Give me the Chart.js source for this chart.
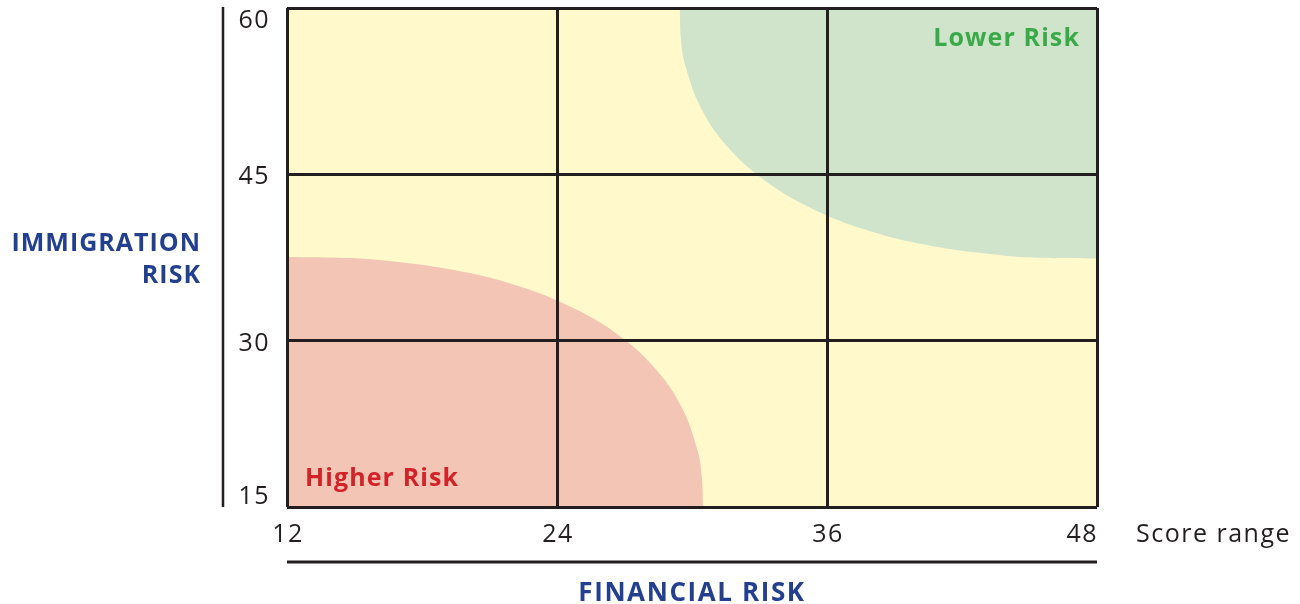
<!DOCTYPE html>
<html>
<head>
<meta charset="utf-8">
<title>Risk matrix</title>
<script src="https://cdn.jsdelivr.net/npm/chart.js@4.4.1/dist/chart.umd.min.js"></script>
<style>
  html, body { margin: 0; padding: 0; background: #fff; }
  #wrap { width: 1300px; height: 604px; }
</style>
</head>
<body>
<div id="wrap"><canvas id="riskChart" width="1300" height="604"></canvas></div>
<script>
// === Data ===
const xTicks = [12, 24, 36, 48];
const yTicks = [15, 30, 45, 60];

// boundary of the green "Lower Risk" zone (filled up to the top)
const lowerRiskX = [29.45, 29.51, 29.69, 30.41, 31.58, 33.22, 35.26, 37.72, 40.56, 43.82, 45.67, 48];
const lowerRiskY = [60, 57.17, 54.91, 50.94, 47.48, 44.47, 41.99, 40.00, 38.58, 37.69, 37.47, 37.40];

// boundary of the red "Higher Risk" zone (filled down to the bottom)
const higherRiskX = [12, 14.32, 16.17, 19.41, 22.24, 24.70, 26.74, 28.36, 29.53, 30.25, 30.43, 30.49];
const higherRiskY = [37.54, 37.47, 37.25, 36.37, 34.95, 32.96, 30.49, 27.49, 24.04, 20.08, 17.83, 15];

const xTitle = 'FINANCIAL RISK';
const yTitle = ['IMMIGRATION', 'RISK'];
const scoreLabel = 'Score range';
const lowerLabel = 'Lower Risk';
const higherLabel = 'Higher Risk';

// === Colours ===
const INK = '#231f20';
const NAVY = '#233f8f';
const YELLOW = '#fff9cb';
const GREEN_FILL = '#cfe4ca';
const RED_FILL = '#f2c5b4';
const GREEN_TEXT = '#3aaa49';
const RED_TEXT = '#d2232a';
const FONT = '"Open Sans", "DejaVu Sans", sans-serif';

const toPoints = (xs, ys) => xs.map((x, i) => ({ x, y: ys[i] }));

// yellow background of the plot
const plotBackground = {
  id: 'plotBackground',
  beforeDraw(chart) {
    const { ctx, chartArea: a } = chart;
    ctx.save();
    ctx.fillStyle = YELLOW;
    ctx.fillRect(a.left, a.top, a.right - a.left, a.bottom - a.top);
    ctx.restore();
  }
};

// tick labels, titles and zone labels
const labelsPlugin = {
  id: 'labelsPlugin',
  afterDraw(chart) {
    const { ctx, chartArea: a, scales } = chart;
    ctx.save();

    // y tick labels, kept inside the plot height
    ctx.font = `400 25px ${FONT}`;
    ctx.letterSpacing = '1.5px';
    ctx.fillStyle = INK;
    ctx.textAlign = 'right';
    ctx.textBaseline = 'middle';
    yTicks.forEach(v => {
      let y = scales.y.getPixelForValue(v) + 3;
      y = Math.min(Math.max(y, a.top + 13), a.bottom - 10);
      ctx.fillText(String(v), a.left - 17, y);
    });

    // x tick labels, kept inside the plot width
    ctx.textAlign = 'center';
    xTicks.forEach(v => {
      const w = ctx.measureText(String(v)).width;
      let x = scales.x.getPixelForValue(v) + 1;
      x = Math.min(x, a.right + 1 - w / 2);
      ctx.fillText(String(v), x, a.bottom + 28);
    });

    ctx.textAlign = 'left';
    ctx.fillText(scoreLabel, a.right + 39, a.bottom + 28);

    // left vertical rule
    ctx.strokeStyle = INK;
    ctx.lineWidth = 2.5;
    ctx.beginPath();
    ctx.moveTo(a.left - 64, a.top - 1);
    ctx.lineTo(a.left - 64, a.bottom);
    ctx.stroke();

    // rule under the x labels
    ctx.lineWidth = 3;
    ctx.beginPath();
    ctx.moveTo(a.left, a.bottom + 55);
    ctx.lineTo(a.right, a.bottom + 55);
    ctx.stroke();

    // axis titles
    ctx.fillStyle = NAVY;
    ctx.font = `700 26px ${FONT}`;
    ctx.letterSpacing = '1.6px';
    ctx.textAlign = 'center';
    ctx.fillText(xTitle, (a.left + a.right) / 2, a.bottom + 87);

    ctx.font = `700 25px ${FONT}`;
    ctx.letterSpacing = '1px';
    ctx.textAlign = 'right';
    ctx.fillText(yTitle[0], 201, 244);
    ctx.fillText(yTitle[1], 201, 276);

    // zone labels
    ctx.font = `700 25px ${FONT}`;
    ctx.letterSpacing = '1.1px';
    ctx.fillStyle = GREEN_TEXT;
    ctx.textAlign = 'right';
    ctx.fillText(lowerLabel, a.right - 17, a.top + 31);
    ctx.fillStyle = RED_TEXT;
    ctx.textAlign = 'left';
    ctx.fillText(higherLabel, a.left + 18, a.bottom - 28);

    ctx.restore();
  }
};

const gridOpts = {
  color: INK,
  lineWidth: 3,
  drawTicks: false,
  z: 1
};

new Chart(document.getElementById('riskChart'), {
  type: 'scatter',
  data: {
    datasets: [
      {
        label: lowerLabel,
        data: toPoints(lowerRiskX, lowerRiskY),
        backgroundColor: GREEN_FILL,
        borderWidth: 0,
        pointRadius: 0,
        showLine: true,
        fill: 'end',
        tension: 0.4
      },
      {
        label: higherLabel,
        data: toPoints(higherRiskX, higherRiskY),
        backgroundColor: RED_FILL,
        borderWidth: 0,
        pointRadius: 0,
        showLine: true,
        fill: 'start',
        tension: 0.4
      }
    ]
  },
  options: {
    responsive: false,
    animation: false,
    layout: { padding: { left: 287, top: 8, right: 203, bottom: 97 } },
    plugins: { legend: { display: false }, tooltip: { enabled: false } },
    scales: {
      x: {
        type: 'linear',
        min: 12,
        max: 48,
        afterBuildTicks: s => { s.ticks = xTicks.map(v => ({ value: v })); },
        afterFit: s => { s.height = 0; },
        ticks: { display: false },
        grid: gridOpts,
        border: { display: false }
      },
      y: {
        type: 'linear',
        min: 15,
        max: 60,
        afterBuildTicks: s => { s.ticks = yTicks.map(v => ({ value: v })); },
        afterFit: s => { s.width = 0; },
        ticks: { display: false },
        grid: gridOpts,
        border: { display: false }
      }
    }
  },
  plugins: [plotBackground, labelsPlugin]
});
</script>
</body>
</html>
